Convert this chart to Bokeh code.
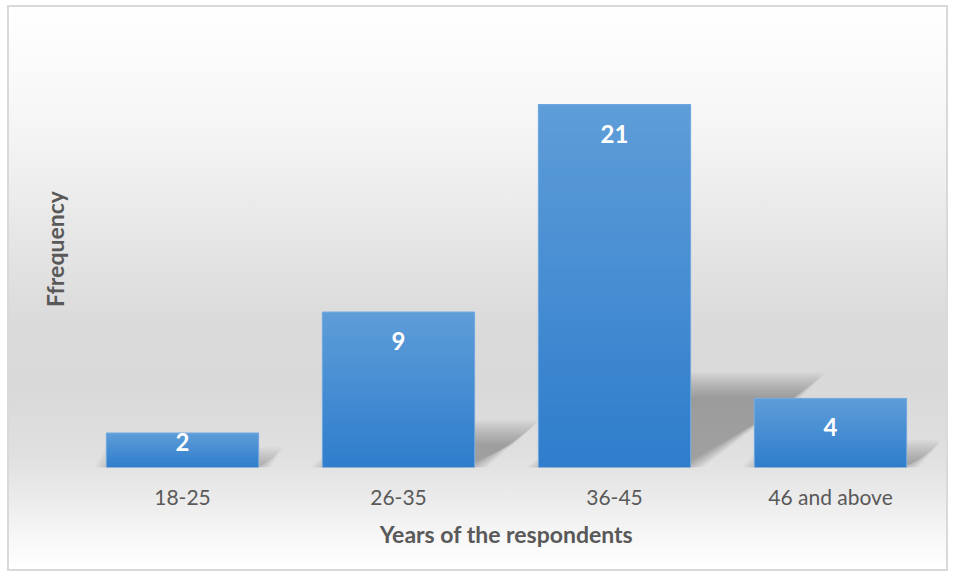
from bokeh.plotting import figure
from bokeh.models import FactorRange, Range1d, FixedTicker, ColumnDataSource
from bokeh.core.properties import value
from bokeh.embed import file_html
from bokeh.resources import INLINE

# ---- data ----
categories = ["18-25", "26-35", "36-45", "46 and above"]
frequency = [2, 9, 21, 4]
x_title = "Years of the respondents"
y_title = "Ffrequency"

FONT = "Lato"
BAR_W = 0.705
Y_MAX = 25.3

p = figure(
    x_range=FactorRange(*categories, range_padding=0),
    y_range=Range1d(0, Y_MAX),
    width=941, height=566,
    output_backend="svg", toolbar_location=None,
    min_border_left=65, min_border_right=12,
    min_border_top=23, min_border_bottom=106,
)
p.margin = (5, 0, 0, 7)
p.styles = {
    "border": "2px solid #d9d9d9",
    "background": "linear-gradient(to bottom, #ffffff 0%, #f7f7f7 18%, #efefef 30%, "
                  "#e5e5e5 42%, #dadada 57%, #d9d9d9 68%, #e0e0e0 80%, #ececec 88%, "
                  "#f8f8f8 95%, #ffffff 100%)",
}
p.background_fill_color = None
p.border_fill_color = None
p.outline_line_color = None
p.grid.visible = False

# pixel -> data conversions (frame is 864 x 437 px)
PX_X = 4 / 864
PX_Y = Y_MAX / 437

centers = [i + 0.5 for i in range(len(categories))]

# ---- shadows (perspective, soft/blurred by layered insets) ----
for grow in range(-12, 13, 2):
    xs, ys = [], []
    for c, v in zip(centers, frequency):
        L, R = c - BAR_W / 2, c + BAR_W / 2
        h = 0.228 * v
        dx = 0.34 * v * (PX_X / PX_Y)
        gx, gy = grow * PX_X, grow * PX_Y
        top = h + gy
        if top <= 0:
            continue
        xs.append([L - gx, R + gx, R + dx + gx, L + dx - gx])
        ys.append([0, 0, top, top])
    if xs:
        p.patches(xs, ys, fill_color="#404040", fill_alpha=0.04, line_color=None)

# ---- bars with vertical gradient (painted bottom-up, each slice to the bar top) ----
top_rgb = (0x5e, 0x9d, 0xd8)
bot_rgb = (0x2f, 0x7d, 0xcc)
N = 40
sl = {"left": [], "right": [], "bottom": [], "top": [], "color": []}
for s in range(N):
    f = (s + 0.5) / N
    rgb = tuple(int(round(b + (t - b) * f)) for b, t in zip(bot_rgb, top_rgb))
    for c, v in zip(centers, frequency):
        sl["left"].append(c - BAR_W / 2)
        sl["right"].append(c + BAR_W / 2)
        sl["bottom"].append(v * s / N)
        sl["top"].append(v)
        sl["color"].append("#%02x%02x%02x" % rgb)
p.quad(left="left", right="right", bottom="bottom", top="top",
       fill_color="color", line_color=None, source=ColumnDataSource(sl))

bars = ColumnDataSource(dict(
    cat=categories, val=frequency,
    left=[c - BAR_W / 2 for c in centers], right=[c + BAR_W / 2 for c in centers],
    zero=[0] * len(categories),
    ly=[v - 1.68 if v > 3 else v * 0.75 for v in frequency],
    x=centers, txt=[str(v) for v in frequency],
))
p.quad(left="left", right="right", bottom="zero", top="val", source=bars,
       fill_color=None, line_color="#76ace1", line_width=1)

p.text(x="x", y="ly", text="txt", source=bars,
       text_align="center", text_baseline="middle",
       text_color="white", text_font=value(FONT), text_font_style="bold",
       text_font_size="24px")

# ---- axes ----
xa = p.xaxis[0]
xa.axis_line_color = None
xa.major_tick_line_color = None
xa.major_tick_out = 0
xa.major_tick_in = 0
xa.major_label_standoff = 16
xa.major_label_text_font = FONT
xa.major_label_text_font_size = "21px"
xa.major_label_text_color = "#595959"
xa.axis_label = x_title
xa.axis_label_text_font = FONT
xa.axis_label_text_font_size = "23px"
xa.axis_label_text_font_style = "bold"
xa.axis_label_text_color = "#595959"
xa.axis_label_standoff = 8

ya = p.yaxis[0]
ya.ticker = FixedTicker(ticks=[])
ya.axis_line_color = None
ya.major_tick_line_color = None
ya.minor_tick_line_color = None
ya.major_tick_out = 0
ya.major_tick_in = 0
ya.axis_label = y_title
ya.axis_label_text_font = FONT
ya.axis_label_text_font_size = "23px"
ya.axis_label_text_font_style = "bold"
ya.axis_label_text_color = "#595959"
ya.axis_label_standoff = 6

open("out.html", "w").write(file_html(p, INLINE))
